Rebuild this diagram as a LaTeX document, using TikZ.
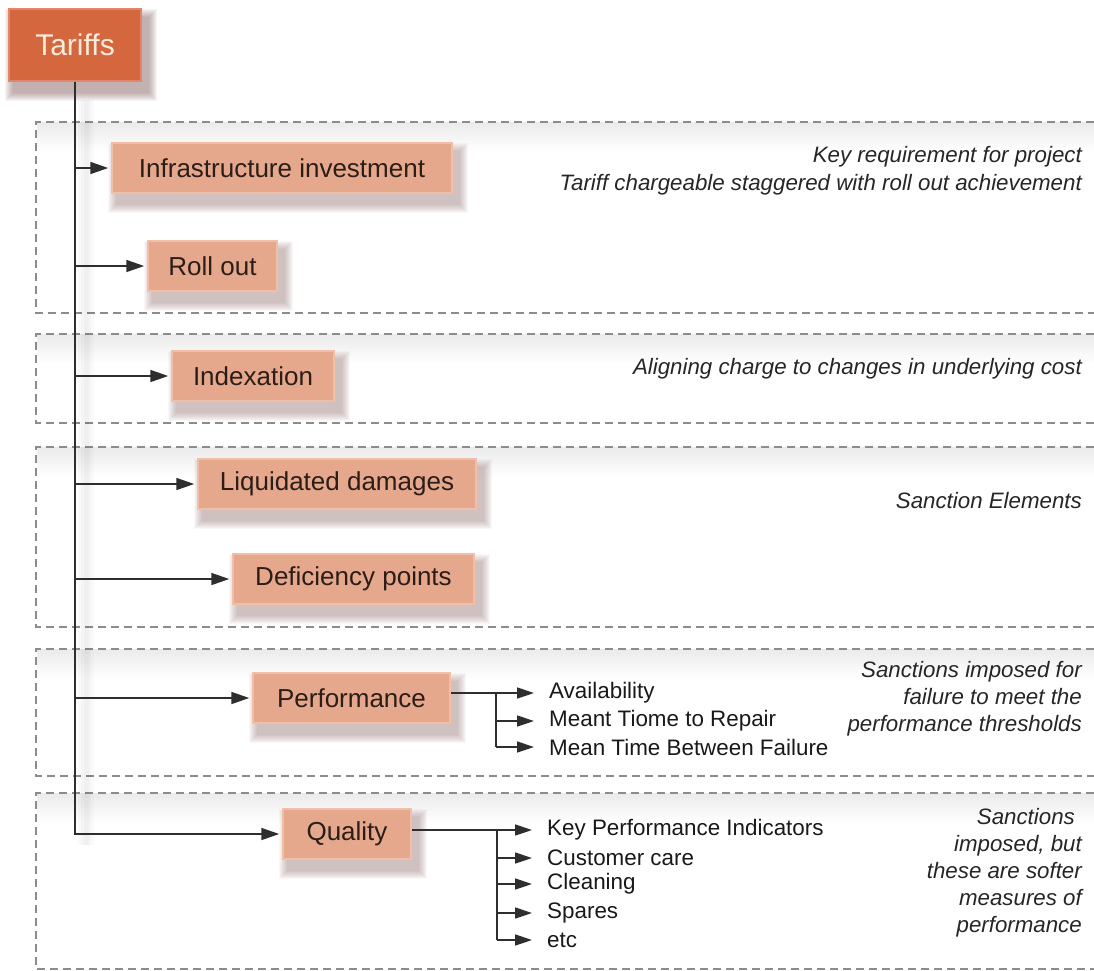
\documentclass[tikz,border=0pt]{standalone}
\usepackage{fontspec}
\setmainfont{Liberation Sans}
\usetikzlibrary{arrows.meta,backgrounds}

\definecolor{tariffred}{HTML}{D4673E}
\definecolor{tariffedge}{HTML}{E0866A}
\definecolor{tariffcream}{HTML}{FBEBDD}
\definecolor{boxfill}{HTML}{E6A88C}
\definecolor{boxedge}{HTML}{F3BEA8}
\definecolor{boxtext}{HTML}{2B1D18}
\definecolor{linegray}{HTML}{2E2E2E}
\definecolor{dashgray}{HTML}{8C8C8C}
\definecolor{notetext}{HTML}{262626}
\definecolor{shadowtone}{HTML}{8A6464}

\pgfdeclarelayer{shadowlayer}
\pgfsetlayers{background,shadowlayer,main}

% soft drop shadow below and right of a node, built from stacked translucent rectangles
\newcommand\castshadow[2][0.05]{%
  \begin{pgfonlayer}{shadowlayer}
    \foreach \k in {1,...,9}{
      \fill[shadowtone, opacity=#1]
        ([xshift={(6-\k)*1pt}, yshift={(-10-\k)*1pt}]#2.south west) rectangle
        ([xshift={(6+\k)*1pt}, yshift={(-10+\k)*1pt}]#2.north east);
    }
  \end{pgfonlayer}}

\tikzset{
  topbox/.style={draw=tariffedge, line width=1.5pt, fill=tariffred, text=tariffcream,
      minimum width=132pt, minimum height=72pt, inner sep=0pt,
      font=\fontsize{30}{34}\selectfont},
  itembox/.style={draw=boxedge, line width=1.5pt, fill=boxfill, text=boxtext,
      minimum height=50pt, inner sep=0pt,
      font=\fontsize{26}{30}\selectfont},
  link/.style={draw=linegray, line width=1.6pt,
      -{Triangle[length=18pt,width=12pt]}, shorten >=3pt},
  sublink/.style={draw=linegray, line width=1.6pt,
      -{Triangle[length=17pt,width=11pt]}, shorten >=13pt},
  branch/.style={draw=linegray, line width=1.6pt},
  subitem/.style={anchor=west, inner sep=2pt, text=black!90,
      font=\fontsize{22.4}{26}\selectfont},
  note/.style={anchor=east, align=right, inner sep=2pt, text=notetext,
      font=\fontsize{22.3}{27}\selectfont\itshape},
  bandline/.style={draw=dashgray, line width=1.8pt, dash pattern=on 8pt off 5pt},
}

\begin{document}
\begin{tikzpicture}[x=1pt, y=-1pt]
  \useasboundingbox (0,0) rectangle (1094,970);

  % white page, then dashed bands, open on the right, with a soft grey fade below each top edge
  \begin{pgfonlayer}{background}
    \fill[white] (0,0) rectangle (1094,970);
    \foreach \t/\b in {122/313, 334/423, 447/627, 649/776, 793/969} {
      \shade[top color=black!8, bottom color=white] (37,\t) rectangle (1094,\t+30);
      \draw[bandline] (1094,\t) -- (36,\t) -- (36,\b) -- (1094,\b);
    }
  \end{pgfonlayer}

  % main elements
  \node[topbox]  (tariffs) at (75,45) {Tariffs};
  \node[itembox, minimum width=340pt] (infra) at (282,168)   {Infrastructure investment};
  \node[itembox, minimum width=129pt] (roll)  at (212.5,266) {Roll out};
  \node[itembox, minimum width=162pt] (index) at (253,376)   {Indexation};
  \node[itembox, minimum width=278pt] (liq)   at (337,484)   {Liquidated damages};
  \node[itembox, minimum width=241pt] (def)   at (353.5,579) {Deficiency points};
  \node[itembox, minimum width=197pt] (perf)  at (351.5,698) {Performance};
  \node[itembox, minimum width=128pt] (qual)  at (347,834)   {Quality};

  \castshadow[0.07]{tariffs}
  \foreach \n in {infra, roll, index, liq, def, perf, qual}{
    \castshadow{\n}
  }

  % faint shadow beside the trunk line
  \begin{pgfonlayer}{shadowlayer}
    \foreach \w in {16, 10, 5}{
      \draw[line width=\w pt, black, opacity=0.02] (86,100) -- (86,845);
    }
  \end{pgfonlayer}

  % trunk and branches from Tariffs
  \draw[link] (tariffs.south) |- (qual.west);
  \foreach \n in {infra, roll, index, liq, def, perf}{
    \draw[link] (tariffs.south |- \n.west) -- (\n.west);
  }

  % performance measures
  \node[subitem] (avail) at (547,693) {Availability};
  \node[subitem] (mttr)  at (547,721) {Meant Tiome to Repair};
  \node[subitem] (mtbf)  at (547,747) {Mean Time Between Failure};
  \coordinate (pb) at (496,693);
  \draw[sublink] (perf.east |- avail.west) -- (avail.west);
  \draw[branch] (pb |- avail.west) -- (pb |- mtbf.west);
  \draw[sublink] (pb |- mttr.west) -- (mttr.west);
  \draw[sublink] (pb |- mtbf.west) -- (mtbf.west);

  % quality measures
  \node[subitem] (kpi)   at (545,830) {Key Performance Indicators};
  \node[subitem] (care)  at (545,858) {Customer care};
  \node[subitem] (clean) at (545,884) {Cleaning};
  \node[subitem] (spare) at (545,913) {Spares};
  \node[subitem] (etc)   at (545,940) {etc};
  \coordinate (qb) at (497,830);
  \draw[sublink] (qual.east |- kpi.west) -- (kpi.west);
  \draw[branch] (qb |- kpi.west) -- (qb |- etc.west);
  \foreach \n in {care, clean, spare, etc}{
    \draw[sublink] (qb |- \n.west) -- (\n.west);
  }

  % explanatory notes on the right
  \node[note, font=\fontsize{22.3}{28}\selectfont\itshape] (n1) at (1084,171)
    {Key requirement for project\\Tariff chargeable staggered with roll out achievement};
  \node[note] (n2) at (1084,369) {Aligning charge to changes in underlying cost};
  \node[note] (n3) at (1084,501) {Sanction Elements};
  \node[note] (n4) at (1084,699)
    {Sanctions imposed for\\failure to meet the\\performance thresholds};
  \node[note] (n5) at (1084,873)
    {Sanctions\hspace*{7pt}\\imposed, but\\these are softer\\measures of\\performance};
\end{tikzpicture}
\end{document}
